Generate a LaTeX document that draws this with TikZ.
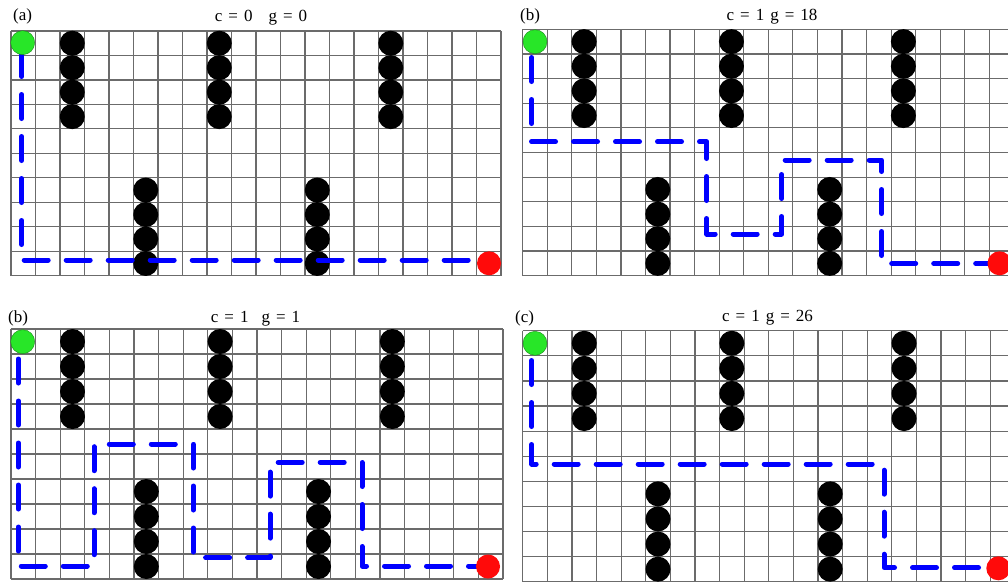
\documentclass[tikz,border=0pt]{standalone}
\usepackage{fontspec}
\setmainfont{Liberation Serif}
\definecolor{startgreen}{RGB}{40,230,40}
\definecolor{goalred}{RGB}{255,10,10}
\definecolor{pathblue}{RGB}{0,0,255}
\newcommand\gridlines{%
  \foreach \i in {0,...,20} \draw[gridline] (\i,0) -- (\i,10);
  \foreach \j in {0,...,10} \draw[gridline] (0,\j) -- (20,\j);
}
\newcommand\obstacles[1]{%
  \foreach \c in {2,8,15} \foreach \r in {0,...,3} \node[obst] (#1-\c-\r) at (\c+0.5,\r+0.5) {};
  \foreach \c in {5,12} \foreach \r in {6,...,9} \node[obst] (#1-\c-\r) at (\c+0.5,\r+0.5) {};
}
\begin{document}
\begin{tikzpicture}[x=1pt,y=-1pt,
  gridline/.style={draw=black!58, line width=1.2pt},
  obst/.style={circle, fill=black, inner sep=0pt, minimum size=25pt},
  startpt/.style={circle, fill=startgreen, draw=startgreen!60!black, line width=0.4pt, inner sep=0pt, minimum size=24pt},
  goalpt/.style={circle, fill=goalred, inner sep=0pt, minimum size=24pt},
  route/.style={draw=pathblue, line width=5pt, line cap=round, line join=round, dash pattern=on 24pt off 18pt},
  lab/.style={font={\fontsize{17}{20}\selectfont}, inner sep=0pt, anchor=base west},
  ttl/.style={font={\fontsize{17}{20}\selectfont\spaceskip=6pt\relax}, inner sep=0pt, anchor=base}
]
\path[use as bounding box] (0,0) rectangle (1008,584);
\clip (0,0) rectangle (1008,584);

% ---------- panel (a) top-left
\begin{scope}[shift={(11,31)}, x=24.5pt, y=-24.47pt]
  \gridlines
  \obstacles{a}
\end{scope}
\draw[route] (21.7,52.5) -- (21.7,260) -- (480,260);
\node[startpt] (ga) at (22.7,42.7) {};
\node[goalpt] (ra) at (489,263.3) {};
\node[lab] (la) at (13,20.5) {(a)};
\node[ttl] (ta) at (261,21.5) {c = 0\hspace{16pt}g = 0};

% ---------- panel (b) top-right
\begin{scope}[shift={(522.7,29.3)}, x=24.56pt, y=-24.64pt]
  \gridlines
  \obstacles{b}
\end{scope}
\draw[route] (531.7,57.5) -- (531.7,141.7) -- (706.7,141.7) -- (706.7,234)
  -- (781.7,234) -- (781.7,160) -- (881.7,160) -- (881.7,263.5) -- (995,263.5);
\node[startpt] (gb) at (535,41.7) {};
\node[goalpt] (rb) at (999.5,263.3) {};
\node[lab] (lb) at (520,20) {(b)};
\node[ttl] (tb) at (772,20) {c = 1 g = 18};

% ---------- panel (b) bottom-left
\begin{scope}[shift={(11,329)}, x=24.6pt, y=-25pt]
  \gridlines
  \obstacles{c}
\end{scope}
\draw[route] (18.3,359) -- (18.3,566) -- (94,566) -- (94,444) -- (193.3,444)
  -- (193.3,557.7) -- (270,557.7) -- (270,462.3) -- (362,462.3) -- (362,566) -- (480,566);
\node[startpt] (gc) at (22.7,341.7) {};
\node[goalpt] (rc) at (488,566.5) {};
\node[lab] (lc) at (8,322) {(b)};
\node[ttl] (tc) at (255.5,322) {c = 1\hspace{13pt}g = 1};

% ---------- panel (c) bottom-right
\begin{scope}[shift={(522.7,330.7)}, x=24.6pt, y=-25.1pt]
  \gridlines
  \obstacles{d}
\end{scope}
\draw[route] (531.7,360.5) -- (531.7,464) -- (884,464) -- (884,567.7) -- (995,567.7);
\node[startpt] (gd) at (535,343.3) {};
\node[goalpt] (rd) at (998.3,568.3) {};
\node[lab] (ld) at (515,322) {(c)};
\node[ttl] (td) at (767.5,321) {c = 1 g = 26};
\end{tikzpicture}
\end{document}
